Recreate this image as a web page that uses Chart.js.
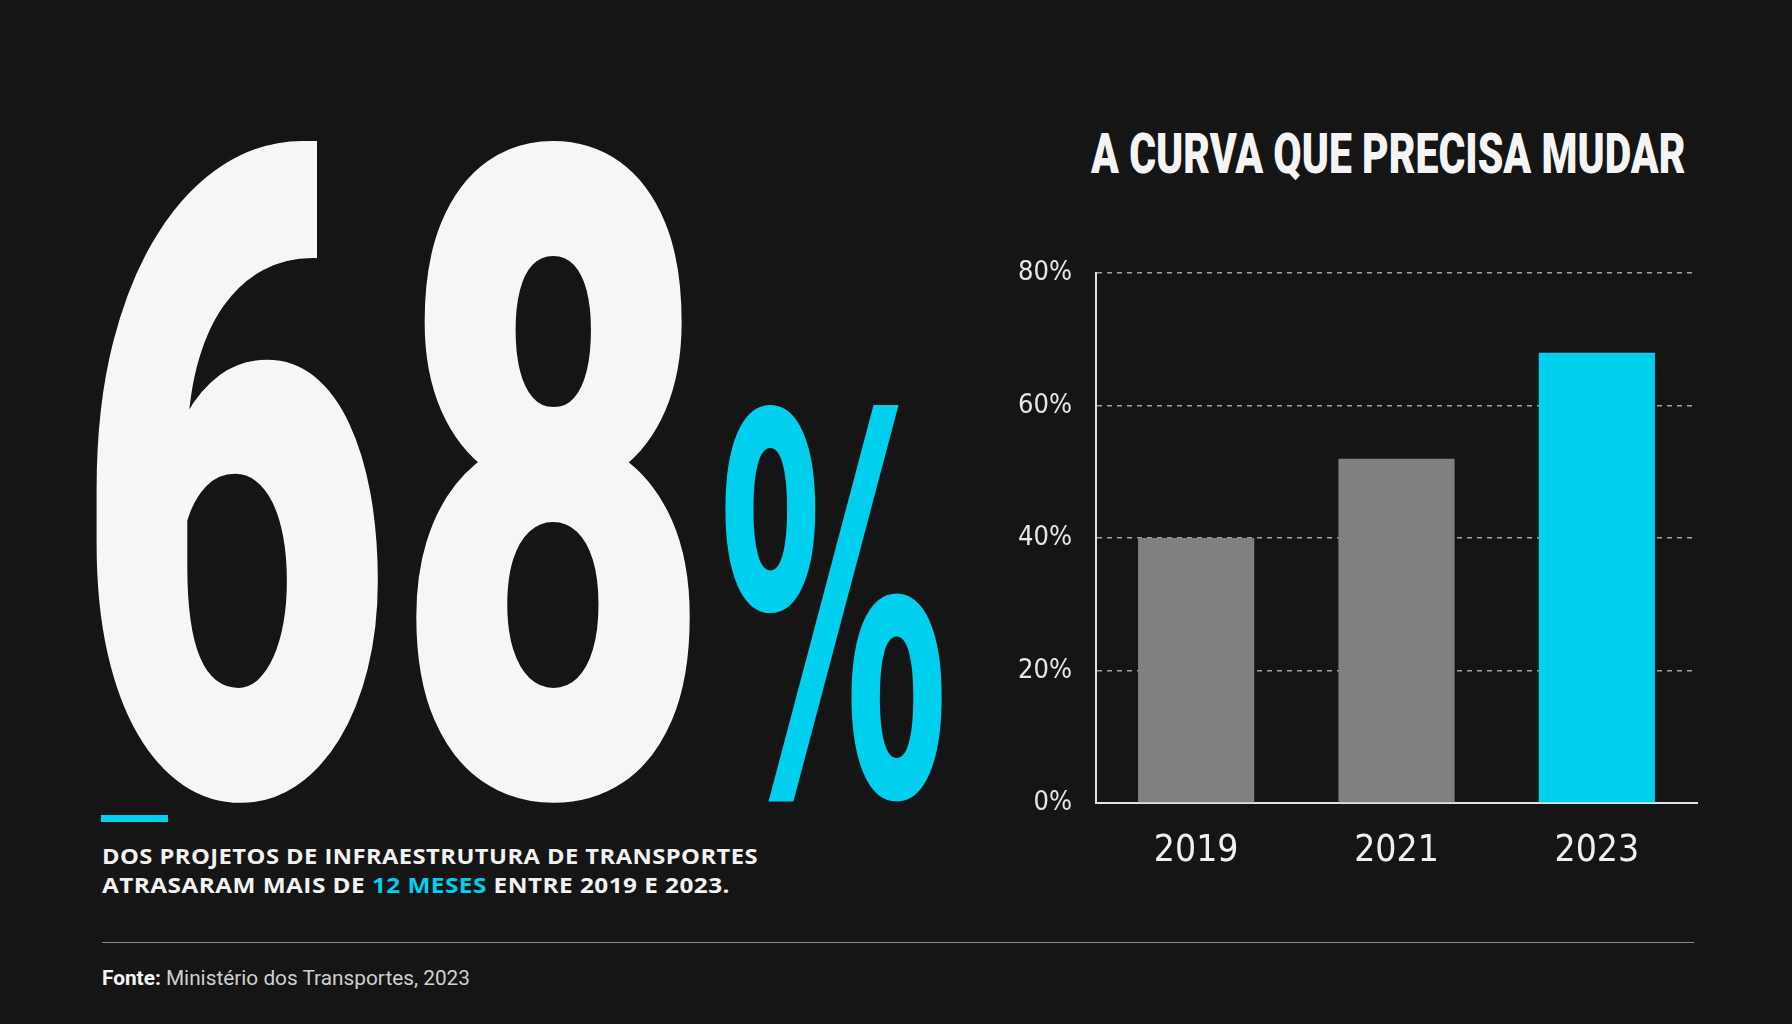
<!DOCTYPE html>
<html lang="pt-BR">
<head>
<meta charset="utf-8">
<title>68% dos projetos de infraestrutura de transportes atrasaram</title>
<script src="https://cdn.jsdelivr.net/npm/chart.js@4.4.1/dist/chart.umd.min.js"></script>
<style>
  html, body { margin: 0; padding: 0; background: #151515; }
  body { width: 1792px; height: 1024px; position: relative; overflow: hidden; color: #f5f5f5; font-family: Roboto, 'Noto Sans', sans-serif; }
  .txt { position: absolute; left: 0; top: 0; white-space: nowrap; line-height: 1; transform-origin: 0 0; }
  #big { font-family: Roboto, sans-serif; font-weight: 900; color: #f6f6f6; }
  #pct { font-family: 'DejaVu Sans', sans-serif; font-weight: 700; color: #00cfee; }
  #title { font-family: Roboto, sans-serif; font-weight: 900; color: #f4f4f4; }
  .sub { font-family: 'Open Sans', sans-serif; font-weight: 700; color: #f2f2f2; letter-spacing: 0.4px; }
  .sub em { font-style: normal; color: #00cfee; }
  #fonte { font-family: Roboto, sans-serif; font-weight: 400; color: #d0d0d0; }
  #fonte b { color: #f5f5f5; font-weight: 700; }
  #accent { position: absolute; left: 101px; top: 815px; width: 67px; height: 7px; background: #00cfee; }
  #rule { position: absolute; left: 102px; top: 942px; width: 1592px; height: 1px; background: #8a8a8a; }
  #chartBox { position: absolute; left: 1000px; top: 233px; width: 720px; height: 657px; }
</style>
</head>
<body>
<div id="big" class="txt">68</div>
<div id="pct" class="txt">%</div>
<div id="accent"></div>
<div id="sub1" class="txt sub">DOS PROJETOS DE INFRAESTRUTURA DE TRANSPORTES</div>
<div id="sub2" class="txt sub">ATRASARAM MAIS DE <em>12 MESES</em> ENTRE 2019 E 2023.</div>
<div id="rule"></div>
<div id="fonte" class="txt"><b>Fonte:</b> Ministério dos Transportes, 2023</div>
<div id="title" class="txt">A CURVA QUE PRECISA MUDAR</div>
<div id="chartBox"><canvas id="myChart" width="720" height="657"></canvas></div>

<script>
// dados
const years = ['2019', '2021', '2023'];
const atraso = [40, 52, 68];
const yMax = 80;
const yStep = 20;

const gray = '#808080';
const cyan = '#00cfee';
const narrow = "'DejaVu Sans Condensed', 'Liberation Sans Narrow', sans-serif";

// fit a text element so that its ink sits in the given box
const meas = document.createElement('canvas').getContext('2d');

function baselineOf(el) {
    const mk = document.createElement('span');
    mk.style.cssText = 'display:inline-block;width:0;height:0;vertical-align:baseline';
    el.appendChild(mk);
    const b = mk.getBoundingClientRect().top - el.getBoundingClientRect().top;
    el.removeChild(mk);
    return b;
}

function fitInk(id, x, top, w, base) {
    const el = document.getElementById(id);
    el.style.fontSize = '100px';
    const cs = getComputedStyle(el);
    meas.font = cs.fontWeight + ' 100px ' + cs.fontFamily;
    const m = meas.measureText(el.textContent);
    const k = (base - top) / m.actualBoundingBoxAscent;
    const inkW = (m.actualBoundingBoxLeft + m.actualBoundingBoxRight) * k;
    const sx = w / inkW;
    el.style.fontSize = (100 * k) + 'px';
    const b = baselineOf(el);
    el.style.left = (x + m.actualBoundingBoxLeft * k * sx) + 'px';
    el.style.top = (base - b) + 'px';
    el.style.transform = 'scaleX(' + sx + ')';
}

function fitLine(id, x, base, size, w) {
    const el = document.getElementById(id);
    el.style.fontSize = size + 'px';
    const sx = w / el.getBoundingClientRect().width;
    const b = baselineOf(el);
    el.style.left = x + 'px';
    el.style.top = (base - b) + 'px';
    el.style.transform = 'scaleX(' + sx + ')';
}

fitInk('big', 96, 142, 595, 794);
fitInk('pct', 725, 401, 219, 794);
fitInk('title', 1091, 132, 594, 173);
fitLine('sub1', 102, 864, 21, 656);
fitLine('sub2', 102, 893, 21, 628);
fitLine('fonte', 102, 985, 21, 368);

const ctx = document.getElementById('myChart').getContext('2d');
const myChart = new Chart(ctx, {
    type: 'bar',
    data: {
        labels: years,
        datasets: [{
            label: 'Projetos atrasados',
            data: atraso,
            backgroundColor: atraso.map((v, i) => i === atraso.length - 1 ? cyan : gray),
            borderWidth: 0,
            barPercentage: 0.58,
            categoryPercentage: 1
        }]
    },
    options: {
        responsive: false,
        animation: false,
        devicePixelRatio: 1,
        layout: {
            // top space comes from the y tick label + tick padding (~40px)
            padding: { top: 0, right: 23, left: 0, bottom: 0 }
        },
        plugins: {
            legend: { display: false },
            tooltip: { enabled: false }
        },
        scales: {
            x: {
                grid: { display: false },
                border: { display: true, color: '#e2e2e2', width: 2 },
                ticks: {
                    color: '#f0f0f0',
                    padding: 18,
                    font: { family: narrow, size: 37, weight: '500' }
                },
                afterFit: function(scale) { scale.height = 87; }
            },
            y: {
                min: 0,
                max: yMax,
                grid: {
                    color: 'rgba(210,210,210,0.75)',
                    lineWidth: 1.5,
                    drawTicks: false
                },
                border: { display: true, color: '#e2e2e2', width: 2, dash: [5, 5] },
                ticks: {
                    stepSize: yStep,
                    color: '#e6e6e6',
                    padding: 24,
                    font: { family: narrow, size: 27 },
                    callback: function(value) { return value + '%'; }
                },
                afterFit: function(scale) { scale.width = 96; }
            }
        }
    }
});
</script>
</body>
</html>
